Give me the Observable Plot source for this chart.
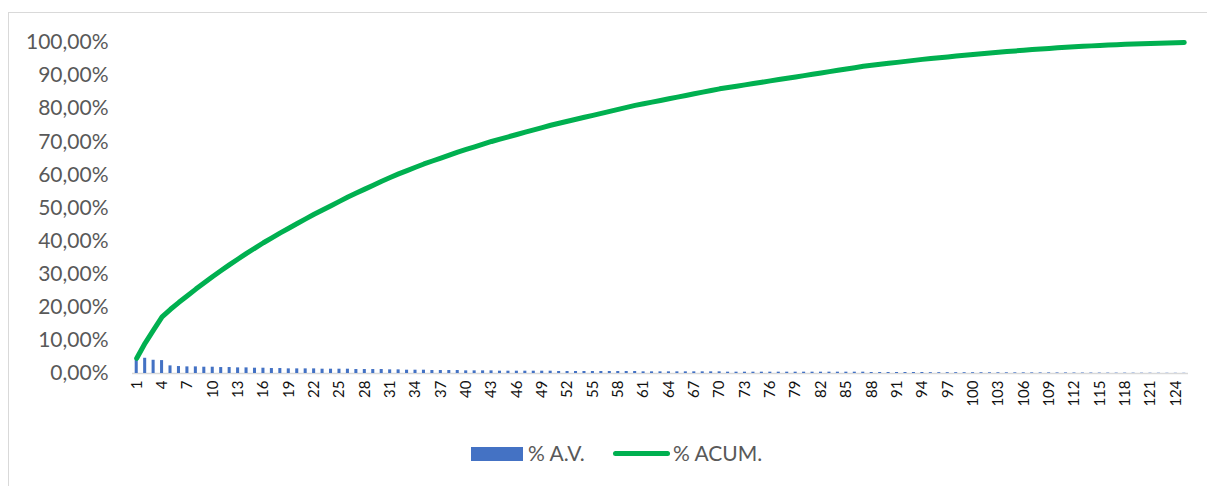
<!DOCTYPE html>
<html><head><meta charset="utf-8">
<script src="https://cdn.jsdelivr.net/npm/d3@7"></script>
<script src="https://cdn.jsdelivr.net/npm/@observablehq/plot@0.6"></script>
<style>
html,body{margin:0;padding:0;background:#fff;width:1207px;height:486px;overflow:hidden;}
#frame{position:absolute;left:8px;top:12px;width:1230px;height:520px;border:1px solid #d9d9d9;box-sizing:border-box;}
#chart{position:absolute;left:0;top:0;}
.lg{position:absolute;font-family:Lato,"Open Sans",sans-serif;font-size:21px;color:#595959;line-height:22px;white-space:nowrap;}
</style></head><body>
<div id="frame"></div>
<div id="chart"></div>
<div id="legend"></div>
<script>
const categories = [1,2,3,4,5,6,7,8,9,10,11,12,13,14,15,16,17,18,19,20,21,22,23,24,25,26,27,28,29,30,31,32,33,34,35,36,37,38,39,40,41,42,43,44,45,46,47,48,49,50,51,52,53,54,55,56,57,58,59,60,61,62,63,64,65,66,67,68,69,70,71,72,73,74,75,76,77,78,79,80,81,82,83,84,85,86,87,88,89,90,91,92,93,94,95,96,97,98,99,100,101,102,103,104,105,106,107,108,109,110,111,112,113,114,115,116,117,118,119,120,121,122,123,124,125];

// % A.V. (individual share, in percent)
const pctAV = [4.6,4.6,4.0,3.9,2.3,2.1,2.0,2.0,1.9,1.9,
  1.8,1.8,1.7,1.7,1.6,1.6,1.5,1.5,1.4,1.4,
  1.4,1.4,1.3,1.3,1.3,1.3,1.2,1.2,1.2,1.2,
  1.1,1.1,1.0,1.0,1.0,0.9,0.9,0.9,0.9,0.8,
  0.8,0.8,0.8,0.7,0.7,0.7,0.7,0.7,0.7,0.7,
  0.6,0.6,0.6,0.6,0.6,0.6,0.6,0.6,0.6,0.6,
  0.5,0.5,0.5,0.5,0.5,0.5,0.5,0.5,0.5,0.5,
  0.4,0.4,0.4,0.4,0.4,0.4,0.4,0.4,0.4,0.4,
  0.4,0.4,0.4,0.4,0.4,0.4,0.4,0.3,0.3,0.3,
  0.3,0.3,0.3,0.3,0.25,0.25,0.25,0.25,0.24,0.24,
  0.23,0.22,0.22,0.21,0.20,0.20,0.19,0.18,0.18,0.17,
  0.17,0.15,0.14,0.14,0.13,0.12,0.11,0.11,0.10,0.09,
  0.09,0.08,0.07,0.06,0.06];

// % ACUM. (cumulative share, in percent)
const pctAcum = [4.6,9.2,13.2,17.1,19.4,21.5,23.5,25.5,27.4,29.3,
  31.1,32.9,34.6,36.3,37.9,39.5,41.0,42.5,43.9,45.3,
  46.7,48.1,49.4,50.7,52.0,53.3,54.5,55.7,56.9,58.1,
  59.2,60.3,61.3,62.3,63.3,64.2,65.1,66.0,66.9,67.7,
  68.5,69.3,70.1,70.8,71.5,72.2,72.9,73.6,74.3,75.0,
  75.6,76.2,76.8,77.4,78.0,78.6,79.2,79.8,80.4,81.0,
  81.5,82.0,82.5,83.0,83.5,84.0,84.5,85.0,85.5,86.0,
  86.4,86.8,87.2,87.6,88.0,88.4,88.8,89.2,89.6,90.0,
  90.4,90.8,91.2,91.6,92.0,92.4,92.8,93.1,93.4,93.7,
  94.0,94.3,94.6,94.9,95.15,95.4,95.65,95.9,96.14,96.38,
  96.61,96.83,97.05,97.26,97.46,97.66,97.85,98.03,98.21,98.38,
  98.55,98.7,98.84,98.98,99.11,99.23,99.34,99.45,99.55,99.64,
  99.73,99.81,99.88,99.94,100.0];

const xTicks = [1,4,7,10,13,16,19,22,25,28,31,34,37,40,43,46,49,52,55,58,61,64,67,70,73,76,79,82,85,88,91,94,97,100,103,106,109,112,115,118,121,124];
const yTicks = [0,10,20,30,40,50,60,70,80,90,100];
const seriesNames = ["% A.V.", "% ACUM."];
const seriesColors = ["#4472C4", "#00B050"];

const rows = categories.map((c, i) => ({cat: c, av: pctAV[i], acum: pctAcum[i]}));
const loc = d3.formatLocale({decimal: ",", thousands: ".", grouping: [3], currency: ["", ""]});
const fmt = loc.format(".2f");

const chart = Plot.plot({
  width: 1207, height: 420,
  marginLeft: 132, marginRight: 19, marginTop: 42, marginBottom: 47,
  style: {fontFamily: "Lato, 'Open Sans', sans-serif", background: "transparent"},
  x: {type: "band", domain: categories, paddingInner: 0.64, paddingOuter: 0.32},
  y: {domain: [0, 100]},
  marks: [
    Plot.axisY({ticks: yTicks, tickFormat: d => fmt(d) + "%", tickSize: 0, tickPadding: 24, fontSize: 21, color: "#595959", label: null}),
    Plot.axisX({ticks: xTicks, tickRotate: -90, tickSize: 0, tickPadding: 7, fontSize: 15, color: "#111", label: null}),
    Plot.ruleY([0], {stroke: "#d9d9d9", strokeWidth: 1.5}),
    Plot.barY(rows, {x: "cat", y: "av", fill: seriesColors[0]}),
    Plot.line(rows, {x: "cat", y: "acum", stroke: seriesColors[1], strokeWidth: 5, strokeLinecap: "round", strokeLinejoin: "round"})
  ]
});
document.getElementById("chart").appendChild(chart);

const lg = document.getElementById("legend");
lg.innerHTML = `
<div style="position:absolute;left:471px;top:447px;width:52px;height:14px;background:${seriesColors[0]}"></div>
<div class="lg" style="left:528px;top:442px">${seriesNames[0]}</div>
<div style="position:absolute;left:613px;top:451px;width:57px;height:5px;border-radius:3px;background:${seriesColors[1]}"></div>
<div class="lg" style="left:673px;top:442px">${seriesNames[1]}</div>`;
</script>
</body></html>
